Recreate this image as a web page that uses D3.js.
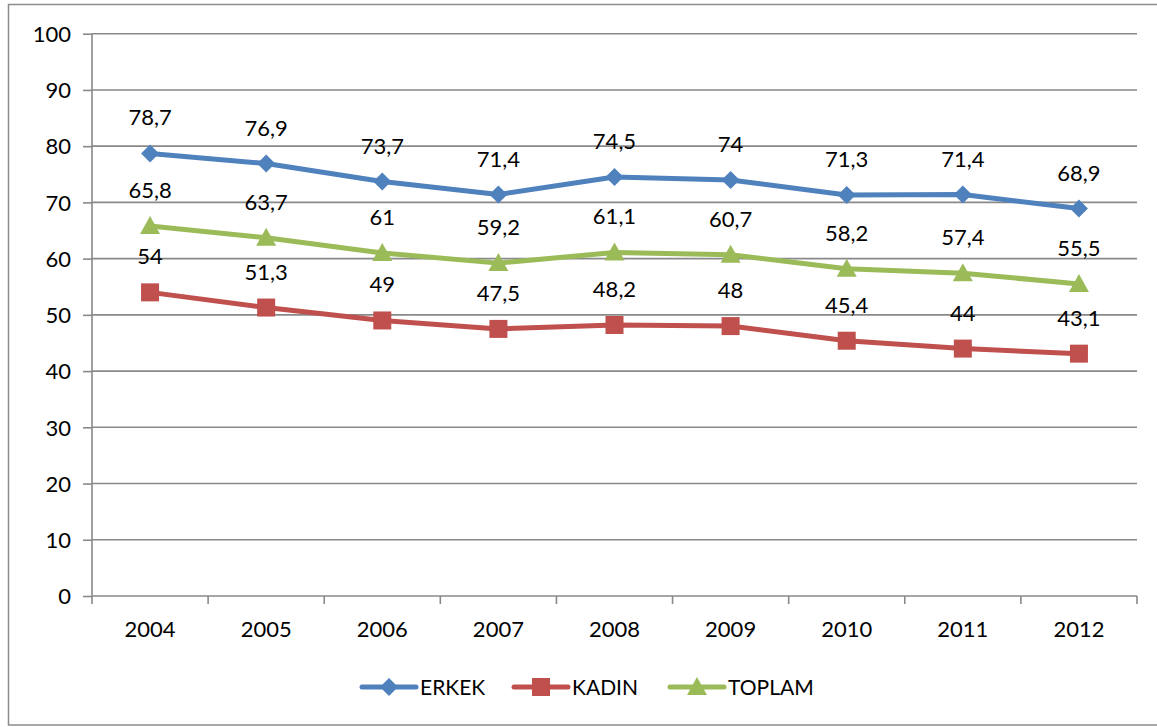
<html>
<head>
<style>
  body { margin: 0; background: #fff; }
  text { font-family: Lato, "Open Sans", sans-serif; fill: #000; }
</style>
</head>
<body>
<svg id="chart" width="1157" height="727"></svg>
<script src="https://d3js.org/d3.v7.min.js"></script>
<script>
const years = ["2004", "2005", "2006", "2007", "2008", "2009", "2010", "2011", "2012"];
const erkek = [78.7, 76.9, 73.7, 71.4, 74.5, 74, 71.3, 71.4, 68.9];
const kadin = [54, 51.3, 49, 47.5, 48.2, 48, 45.4, 44, 43.1];
const toplam = [65.8, 63.7, 61, 59.2, 61.1, 60.7, 58.2, 57.4, 55.5];
const yTicks = [0, 10, 20, 30, 40, 50, 60, 70, 80, 90, 100];

const seriesList = [
  { name: "ERKEK", values: erkek, color: "#4F81BD", shape: "diamond" },
  { name: "KADIN", values: kadin, color: "#C0504D", shape: "square" },
  { name: "TOPLAM", values: toplam, color: "#9BBB59", shape: "triangle" }
];

const svg = d3.select("#chart");

// outer frame
svg.append("rect")
  .attr("x", 8.5).attr("y", 4.5)
  .attr("width", 1160).attr("height", 720.5)
  .attr("fill", "none").attr("stroke", "#8c8c8c").attr("stroke-width", 1.5);

const plotLeft = 92, plotRight = 1137, plotTop = 33.7, plotBottom = 596;

const x = d3.scaleBand().domain(years).range([plotLeft, plotRight]);
const y = d3.scaleLinear().domain([0, 100]).range([plotBottom, plotTop]);

// gridlines
svg.append("g").selectAll("line")
  .data(yTicks.filter(d => d > 0))
  .join("line")
  .attr("x1", plotLeft).attr("x2", plotRight)
  .attr("y1", d => y(d)).attr("y2", d => y(d))
  .attr("stroke", "#898989").attr("stroke-width", 1.6);

// y axis
const yAxis = d3.axisLeft(y).tickValues(yTicks).tickSize(9).tickPadding(12).tickFormat(d => d);
const gy = svg.append("g").attr("transform", `translate(${plotLeft},0)`).call(yAxis);
gy.select(".domain").attr("stroke", "#898989").attr("stroke-width", 1.6).attr("d", `M0,${plotTop}V${plotBottom}`);
gy.selectAll(".tick line").attr("stroke", "#898989").attr("stroke-width", 1.6);
gy.selectAll(".tick text").style("font-size", "22px").attr("dy", "0.35em");

// x axis
const xAxis = d3.axisBottom(x).tickSize(0).tickPadding(25);
const gx = svg.append("g").attr("transform", `translate(0,${plotBottom})`).call(xAxis);
gx.select(".domain").attr("stroke", "#898989").attr("stroke-width", 1.6).attr("d", `M${plotLeft},0H${plotRight}`);
gx.selectAll(".tick text").style("font-size", "22px");
svg.append("g").selectAll("line")
  .data(years.concat(["end"]))
  .join("line")
  .attr("x1", (d, i) => plotLeft + i * x.bandwidth())
  .attr("x2", (d, i) => plotLeft + i * x.bandwidth())
  .attr("y1", plotBottom).attr("y2", plotBottom + 8)
  .attr("stroke", "#898989").attr("stroke-width", 1.6);

const cx = d => x(d) + x.bandwidth() / 2;

function marker(g, shape, color, px, py) {
  if (shape === "diamond") {
    g.append("path").attr("d", `M${px},${py - 9}L${px + 9},${py}L${px},${py + 9}L${px - 9},${py}Z`).attr("fill", color);
  } else if (shape === "square") {
    g.append("rect").attr("x", px - 9).attr("y", py - 9).attr("width", 18).attr("height", 18).attr("fill", color);
  } else {
    g.append("path").attr("d", `M${px},${py - 10}L${px + 10},${py + 8}L${px - 10},${py + 8}Z`).attr("fill", color);
  }
}

const fmt = v => String(v).replace(".", ",");

seriesList.forEach(s => {
  const g = svg.append("g");
  const line = d3.line().x((d, i) => cx(years[i])).y(d => y(d));
  g.append("path").datum(s.values)
    .attr("d", line).attr("fill", "none")
    .attr("stroke", s.color).attr("stroke-width", 5).attr("stroke-linejoin", "round");
  s.values.forEach((v, i) => marker(g, s.shape, s.color, cx(years[i]), y(v)));
  g.selectAll("text.lbl").data(s.values).join("text")
    .attr("class", "lbl")
    .attr("x", (d, i) => cx(years[i]))
    .attr("y", d => y(d) - 28)
    .attr("text-anchor", "middle")
    .style("font-size", "22px")
    .text(d => fmt(d));
});

// legend
const legendX = [362, 514, 670];
seriesList.forEach((s, i) => {
  const g = svg.append("g");
  const lx = legendX[i], ly = 687;
  g.append("line").attr("x1", lx).attr("x2", lx + 54).attr("y1", ly).attr("y2", ly)
    .attr("stroke", s.color).attr("stroke-width", 5).attr("stroke-linecap", "round");
  marker(g, s.shape, s.color, lx + 27, ly);
  g.append("text").attr("x", lx + 58).attr("y", ly).attr("dy", "0.36em")
    .style("font-size", "21px").text(s.name);
});
</script>
</body>
</html>
